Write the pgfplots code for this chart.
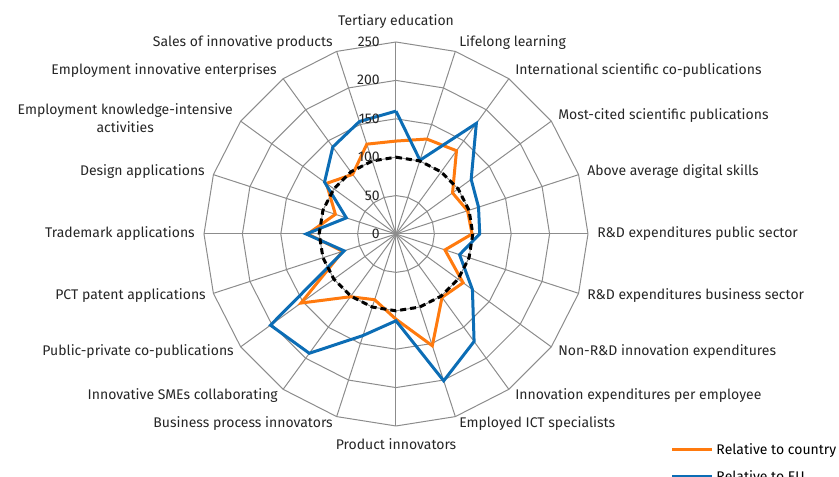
\documentclass[border=0pt]{standalone}
\usepackage{pgfplots}
\pgfplotsset{compat=1.18}
\usepgfplotslibrary{polar}
\usepackage{fontspec}
\setmainfont{Fira Sans}
\definecolor{cntry}{HTML}{FF7A0E}
\definecolor{eu}{HTML}{0C6DB5}
\definecolor{gridc}{HTML}{8C8C8C}
\begin{document}
\begin{tikzpicture}
\begin{polaraxis}[
  scale only axis,
  width=288pt, height=288pt,
  xmin=0, xmax=360, ymin=0, ymax=250,
  hide axis,
  clip=false,
  legend style={at={(axis description cs:1.215,-0.038)}, anchor=north west,
    draw=none, fill=none, inner sep=0pt, row sep=6.5pt,
    font=\fontsize{10.5}{12}\selectfont},
  legend cell align=left,
  legend image code/.code={\draw[#1] (0pt,0pt) -- (30pt,0pt);},
]
  % spokes
  \pgfplotsinvokeforeach{0,18,...,342}{
    \addplot[gridc, line width=0.75pt, forget plot] coordinates {(#1,0) (#1,250)};
  }
  % rings
  \pgfplotsinvokeforeach{50,100,150,200,250}{
    \addplot[gridc, line width=0.75pt, forget plot] coordinates {
      (0,#1) (18,#1) (36,#1) (54,#1) (72,#1) (90,#1) (108,#1) (126,#1) (144,#1) (162,#1)
      (180,#1) (198,#1) (216,#1) (234,#1) (252,#1) (270,#1) (288,#1) (306,#1) (324,#1) (342,#1) (360,#1)};
  }
  % relative to country
  \addplot[cntry, line width=2.25pt, line join=miter] coordinates {
    (90,121) (72,130) (54,134) (36,91) (18,98) (0,99) (342,67) (324,108) (306,102) (288,153)
    (270,111) (252,90) (234,101) (216,153) (198,73) (180,115) (162,83) (144,112) (126,96) (108,123) (90,121)};
  \addlegendentry{Relative to country}
  % relative to EU
  \addplot[eu, line width=2.25pt, line join=miter] coordinates {
    (90,160) (72,101) (54,178) (36,121) (18,113) (0,109) (342,87) (324,123) (306,173) (288,201)
    (270,113) (252,139) (234,192) (216,202) (198,71) (180,117) (162,68) (144,115) (126,140) (108,154) (90,160)};
  \addlegendentry{Relative to EU}
  % EU = 100
  \addplot[black, line width=2.25pt, dash pattern=on 4.5pt off 3pt, forget plot] coordinates {
    (90,100) (72,100) (54,100) (36,100) (18,100) (0,100) (342,100) (324,100) (306,100) (288,100)
    (270,100) (252,100) (234,100) (216,100) (198,100) (180,100) (162,100) (144,100) (126,100) (108,100) (90,100)};
  \coordinate (c) at (axis cs:0,0);
\end{polaraxis}
\begin{scope}[shift={(c)}, x=0.75pt, y=0.75pt, font=\fontsize{10.5}{13}\selectfont, text=black!85]
  % ring labels
  \foreach \v/\r in {0/0, 50/38.4, 100/76.9, 150/115.3, 200/153.8, 250/192.3}
    \node[anchor=east, inner sep=0pt] at (-16,\r) {\v};
  % category labels
  \node[anchor=center, inner sep=0pt] at (0,212) {Tertiary education};
  \node[anchor=west, inner sep=0pt] at (63,191) {Lifelong learning};
  \node[anchor=west, inner sep=0pt] at (119,163) {International scientific co-publications};
  \node[anchor=west, inner sep=0pt] at (162,118) {Most-cited scientific publications};
  \node[anchor=west, inner sep=0pt] at (191,62) {Above average digital skills};
  \node[anchor=west, inner sep=0pt] at (201,0) {R\&D expenditures public sector};
  \node[anchor=west, inner sep=0pt] at (191,-62) {R\&D expenditures business sector};
  \node[anchor=west, inner sep=0pt] at (162,-118) {Non-R\&D innovation expenditures};
  \node[anchor=west, inner sep=0pt] at (119,-162) {Innovation expenditures per employee};
  \node[anchor=west, inner sep=0pt] at (63,-190) {Employed ICT specialists};
  \node[anchor=center, inner sep=0pt] at (0,-210) {Product innovators};
  \node[anchor=east, inner sep=0pt] at (-63,-190) {Business process innovators};
  \node[anchor=east, inner sep=0pt] at (-118,-162) {Innovative SMEs collaborating};
  \node[anchor=east, inner sep=0pt] at (-162,-118) {Public-private co-publications};
  \node[anchor=east, inner sep=0pt] at (-190,-62) {PCT patent applications};
  \node[anchor=east, inner sep=0pt] at (-201,0) {Trademark applications};
  \node[anchor=east, inner sep=0pt] at (-191,62) {Design applications};
  \node[anchor=east, inner sep=0pt, align=center] at (-163,116) {Employment knowledge-intensive\\activities};
  \node[anchor=east, inner sep=0pt] at (-119,163) {Employment innovative enterprises};
  \node[anchor=east, inner sep=0pt] at (-63,191) {Sales of innovative products};
  \pgfresetboundingbox
  \path[use as bounding box] (-396,-243) rectangle (443,234);
\end{scope}
\end{tikzpicture}
\end{document}
